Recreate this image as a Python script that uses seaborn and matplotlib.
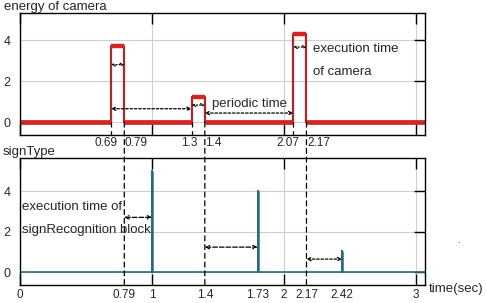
import matplotlib
matplotlib.use("Agg")
import matplotlib.pyplot as plt
import matplotlib.transforms as mtransforms
from matplotlib.patches import ConnectionPatch
import pandas as pd
import seaborn as sns

# camera pulses (start, end, energy)
pulse_start = [0.69, 1.3, 2.07]
pulse_end = [0.79, 1.4, 2.17]
pulse_energy = [3.7, 1.2, 4.3]
top_labels = ["0.69", "0.79", "1.3", "1.4", "2.07", "2.17"]

# signType spikes
spike_time = [1.0, 1.8, 2.44]
spike_value = [5.0, 4.0, 1.05]
spike_labels = ["1", "1.73", "2.42"]
bottom_minor = [0.79, 1.4, 1.8, 2.17, 2.44]
bottom_minor_labels = ["0.79", "1.4", "1.73", "2.17", "2.42"]

t_end = 3.2
RED = "#d42424"
DARKRED = "#a52a2a"
TEAL = "#2b6a7e"

sns.set_style("white")
plt.rcParams["font.family"] = ["Liberation Sans", "DejaVu Sans"]

fig = plt.figure(figsize=(4.86, 3.03), dpi=100)
ax1 = fig.add_axes([0.0412, 0.5545, 0.8333, 0.4026])
ax2 = fig.add_axes([0.0412, 0.0594, 0.8333, 0.4191])

# ---- top: energy of camera
xs, ys = [0], [0]
for s, e, h in zip(pulse_start, pulse_end, pulse_energy):
    xs += [s, s, e, e]
    ys += [0, h, h, 0]
xs.append(t_end)
ys.append(0)
cam = pd.DataFrame({"t": xs, "energy": ys})
sns.lineplot(data=cam, x="t", y="energy", sort=False, estimator=None,
             color=DARKRED, lw=1.6, ax=ax1)
ax1.hlines(pulse_energy, pulse_start, pulse_end, color=RED, lw=3.2)
ax1.hlines([0] * 4, [0] + pulse_end, pulse_start + [t_end], color=RED, lw=3.4)

ax1.set_xlim(0, 3.068)
ax1.set_ylim(-0.63, 5.32)
ax1.set_yticks([0, 2, 4])
ax1.set_xticks([0, 1, 2, 3])
ax1.tick_params(axis="x", labelbottom=False)

# ---- bottom: signType
sx, sy = [0], [0]
for t, v in zip(spike_time, spike_value):
    sx += [t, t, t]
    sy += [0, v, 0]
sx.append(t_end)
sy.append(0)
sig = pd.DataFrame({"t": sx, "sign": sy})
sns.lineplot(data=sig, x="t", y="sign", sort=False, estimator=None,
             color=TEAL, lw=1.2, ax=ax2)
ax2.vlines(spike_time, 0, spike_value, color=TEAL, lw=1.8)

ax2.set_xlim(0, 3.068)
ax2.set_ylim(-0.64, 5.63)
ax2.set_yticks([0, 2, 4])
ax2.set_xticks([0, 1, 2, 3], labels=["0", "1", "2", "3"])
ax2.set_xticks(bottom_minor, labels=bottom_minor_labels, minor=True)

for ax in (ax1, ax2):
    ax.set_xlabel("")
    ax.set_ylabel("")
    ax.grid(True, which="major", color="#cfcfcf", lw=0.8)
    ax.set_axisbelow(True)
    for sp in ax.spines.values():
        sp.set_color("black")
        sp.set_linewidth(1.0)
    ax.tick_params(axis="x", which="major", direction="in", length=8, width=1,
                   top=True, bottom=True, color="black", labelsize=8.5, pad=3)
    ax.tick_params(axis="x", which="minor", length=0, labelsize=8.5, pad=3)
    ax.tick_params(axis="y", direction="in", length=8, width=1, left=False,
                   right=True, labelleft=True, color="black", labelsize=9, pad=7)

# top x labels next to the pulse edges
trans1 = mtransforms.blended_transform_factory(ax1.transData, ax1.transAxes)
edges = []
for s, e in zip(pulse_start, pulse_end):
    edges += [s, e]
for i, (x, lab) in enumerate(zip(edges, top_labels)):
    if i % 2 == 0:
        ax1.text(x + 0.045, -0.066, lab, transform=trans1, ha="right", va="center", fontsize=8.5)
    else:
        ax1.text(x + 0.004, -0.066, lab, transform=trans1, ha="left", va="center", fontsize=8.5)

# dashed markers under pulse rising edges
dash = (0, (4, 3))
for s in pulse_start:
    ax1.plot([s, s], [0, -0.63], color="black", lw=0.9, ls=dash)
# dashed lines running from the top plot down through the bottom one
for e in pulse_end:
    con = ConnectionPatch(xyA=(e, 0), coordsA="data", axesA=ax1,
                          xyB=(e, -0.64), coordsB="data", axesB=ax2,
                          color="black", lw=0.9, ls=dash)
    fig.add_artist(con)


def arrow(ax, x0, x1, y, ls="--", ms=6):
    ax.annotate("", xy=(x1, y), xytext=(x0, y),
                arrowprops=dict(arrowstyle="<->", lw=0.9, ls=ls, color="black",
                                mutation_scale=ms, shrinkA=0, shrinkB=0))


arrow(ax1, pulse_start[0], pulse_end[0], 2.8, ls=":", ms=5)
arrow(ax1, pulse_start[1], pulse_end[1], 0.83, ls=":", ms=5)
arrow(ax1, pulse_start[2], pulse_end[2], 3.66, ls=":", ms=5)
arrow(ax1, pulse_start[0], pulse_start[1], 0.65, ls=(0, (2, 1.5)))
arrow(ax1, pulse_end[1], pulse_start[2], 0.44, ls=(0, (2, 1.5)))
ax1.text(1.455, 0.9, "periodic time", fontsize=9.5, ha="left", va="center")
ax1.text(2.22, 3.56, "execution time", fontsize=9.5, ha="left", va="center")
ax1.text(2.22, 2.44, "of camera", fontsize=9.5, ha="left", va="center")

arrow(ax2, pulse_end[0], spike_time[0], 2.7)
arrow(ax2, pulse_end[1], spike_time[1], 1.23)
arrow(ax2, pulse_end[2], spike_time[2], 0.64, ls=(0, (2, 1.5)))
ax2.text(0.015, 3.2, "execution time of", fontsize=9.5, ha="left", va="center")
ax2.text(0.015, 2.07, "signRecognition block", fontsize=9.5, ha="left", va="center")

fig.text(4 / 486, 1 - 7 / 303, "energy of camera", fontsize=9.5, ha="left", va="center")
fig.text(3 / 486, 1 - 152 / 303, "signType", fontsize=9.5, ha="left", va="center")
fig.text(429 / 486, 1 - 289 / 303, "time(sec)", fontsize=9.5, ha="left", va="center")
fig.text(458 / 486, 1 - 240 / 303, ".", fontsize=7, ha="center", va="center")

fig.savefig("out.png", dpi=100)
